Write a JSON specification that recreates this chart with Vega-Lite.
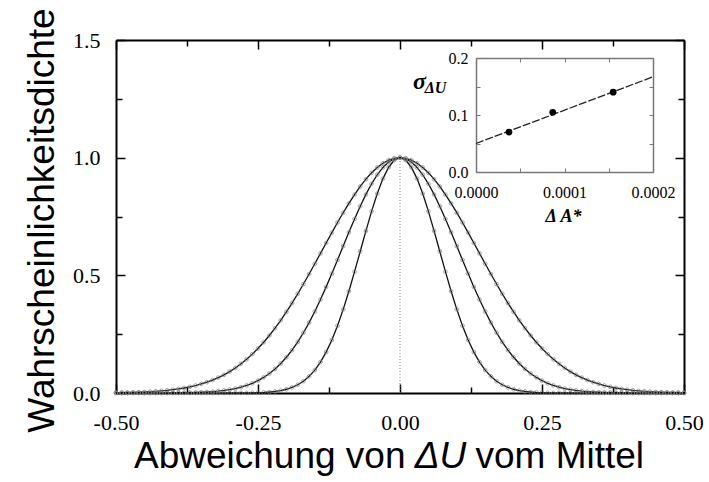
{
  "$schema": "https://vega.github.io/schema/vega-lite/v6.json",
  "width": 568,
  "height": 353,
  "autosize": {"type": "none"},
  "padding": {"left": 116, "top": 40, "right": 25, "bottom": 89},
  "background": "white",
  "config": {"view": {"stroke": null}, "axis": {"grid": false}},
  "datasets": {
    "curves": [
      {"x": -0.50, "a": 0, "b": 0, "c": 0.0013},
      {"x": -0.49, "a": 0, "b": 0, "c": 0.0017},
      {"x": -0.48, "a": 0, "b": 0, "c": 0.0022},
      {"x": -0.47, "a": 0, "b": 0, "c": 0.0028},
      {"x": -0.46, "a": 0, "b": 0, "c": 0.0036},
      {"x": -0.45, "a": 0, "b": 0, "c": 0.0045},
      {"x": -0.44, "a": 0, "b": 0, "c": 0.0058},
      {"x": -0.43, "a": 0, "b": 0.0001, "c": 0.0073},
      {"x": -0.42, "a": 0, "b": 0.0002, "c": 0.0091},
      {"x": -0.41, "a": 0, "b": 0.0003, "c": 0.0114},
      {"x": -0.40, "a": 0, "b": 0.0005, "c": 0.0141},
      {"x": -0.39, "a": 0, "b": 0.0008, "c": 0.0174},
      {"x": -0.38, "a": 0, "b": 0.0011, "c": 0.0213},
      {"x": -0.37, "a": 0, "b": 0.0016, "c": 0.0261},
      {"x": -0.36, "a": 0, "b": 0.0022, "c": 0.0317},
      {"x": -0.35, "a": 0, "b": 0.0031, "c": 0.0383},
      {"x": -0.34, "a": 0, "b": 0.0043, "c": 0.0460},
      {"x": -0.33, "a": 0, "b": 0.0059, "c": 0.0550},
      {"x": -0.32, "a": 0, "b": 0.0080, "c": 0.0654},
      {"x": -0.31, "a": 0, "b": 0.0108, "c": 0.0773},
      {"x": -0.30, "a": 0.0001, "b": 0.0144, "c": 0.0909},
      {"x": -0.29, "a": 0.0002, "b": 0.0190, "c": 0.1064},
      {"x": -0.28, "a": 0.0003, "b": 0.0248, "c": 0.1239},
      {"x": -0.27, "a": 0.0005, "b": 0.0322, "c": 0.1434},
      {"x": -0.26, "a": 0.0009, "b": 0.0413, "c": 0.1652},
      {"x": -0.25, "a": 0.0016, "b": 0.0526, "c": 0.1892},
      {"x": -0.24, "a": 0.0026, "b": 0.0662, "c": 0.2156},
      {"x": -0.23, "a": 0.0042, "b": 0.0827, "c": 0.2443},
      {"x": -0.22, "a": 0.0067, "b": 0.1022, "c": 0.2755},
      {"x": -0.21, "a": 0.0104, "b": 0.1251, "c": 0.3089},
      {"x": -0.20, "a": 0.0159, "b": 0.1518, "c": 0.3445},
      {"x": -0.19, "a": 0.0238, "b": 0.1824, "c": 0.3822},
      {"x": -0.18, "a": 0.0350, "b": 0.2172, "c": 0.4218},
      {"x": -0.17, "a": 0.0502, "b": 0.2561, "c": 0.4631},
      {"x": -0.16, "a": 0.0707, "b": 0.2992, "c": 0.5056},
      {"x": -0.15, "a": 0.0974, "b": 0.3463, "c": 0.5491},
      {"x": -0.14, "a": 0.1315, "b": 0.3970, "c": 0.5933},
      {"x": -0.13, "a": 0.1739, "b": 0.4509, "c": 0.6375},
      {"x": -0.12, "a": 0.2253, "b": 0.5073, "c": 0.6814},
      {"x": -0.11, "a": 0.2858, "b": 0.5654, "c": 0.7244},
      {"x": -0.10, "a": 0.3552, "b": 0.6242, "c": 0.7661},
      {"x": -0.09, "a": 0.4324, "b": 0.6827, "c": 0.8059},
      {"x": -0.08, "a": 0.5156, "b": 0.7396, "c": 0.8432},
      {"x": -0.07, "a": 0.6022, "b": 0.7938, "c": 0.8776},
      {"x": -0.06, "a": 0.6890, "b": 0.8439, "c": 0.9086},
      {"x": -0.05, "a": 0.7720, "b": 0.8889, "c": 0.9356},
      {"x": -0.04, "a": 0.8474, "b": 0.9274, "c": 0.9583},
      {"x": -0.03, "a": 0.9111, "b": 0.9585, "c": 0.9763},
      {"x": -0.02, "a": 0.9594, "b": 0.9813, "c": 0.9894},
      {"x": -0.01, "a": 0.9897, "b": 0.9953, "c": 0.9973},
      {"x": 0.00, "a": 1, "b": 1, "c": 1},
      {"x": 0.01, "a": 0.9897, "b": 0.9953, "c": 0.9973},
      {"x": 0.02, "a": 0.9594, "b": 0.9813, "c": 0.9894},
      {"x": 0.03, "a": 0.9111, "b": 0.9585, "c": 0.9763},
      {"x": 0.04, "a": 0.8474, "b": 0.9274, "c": 0.9583},
      {"x": 0.05, "a": 0.7720, "b": 0.8889, "c": 0.9356},
      {"x": 0.06, "a": 0.6890, "b": 0.8439, "c": 0.9086},
      {"x": 0.07, "a": 0.6022, "b": 0.7938, "c": 0.8776},
      {"x": 0.08, "a": 0.5156, "b": 0.7396, "c": 0.8432},
      {"x": 0.09, "a": 0.4324, "b": 0.6827, "c": 0.8059},
      {"x": 0.10, "a": 0.3552, "b": 0.6242, "c": 0.7661},
      {"x": 0.11, "a": 0.2858, "b": 0.5654, "c": 0.7244},
      {"x": 0.12, "a": 0.2253, "b": 0.5073, "c": 0.6814},
      {"x": 0.13, "a": 0.1739, "b": 0.4509, "c": 0.6375},
      {"x": 0.14, "a": 0.1315, "b": 0.3970, "c": 0.5933},
      {"x": 0.15, "a": 0.0974, "b": 0.3463, "c": 0.5491},
      {"x": 0.16, "a": 0.0707, "b": 0.2992, "c": 0.5056},
      {"x": 0.17, "a": 0.0502, "b": 0.2561, "c": 0.4631},
      {"x": 0.18, "a": 0.0350, "b": 0.2172, "c": 0.4218},
      {"x": 0.19, "a": 0.0238, "b": 0.1824, "c": 0.3822},
      {"x": 0.20, "a": 0.0159, "b": 0.1518, "c": 0.3445},
      {"x": 0.21, "a": 0.0104, "b": 0.1251, "c": 0.3089},
      {"x": 0.22, "a": 0.0067, "b": 0.1022, "c": 0.2755},
      {"x": 0.23, "a": 0.0042, "b": 0.0827, "c": 0.2443},
      {"x": 0.24, "a": 0.0026, "b": 0.0662, "c": 0.2156},
      {"x": 0.25, "a": 0.0016, "b": 0.0526, "c": 0.1892},
      {"x": 0.26, "a": 0.0009, "b": 0.0413, "c": 0.1652},
      {"x": 0.27, "a": 0.0005, "b": 0.0322, "c": 0.1434},
      {"x": 0.28, "a": 0.0003, "b": 0.0248, "c": 0.1239},
      {"x": 0.29, "a": 0.0002, "b": 0.0190, "c": 0.1064},
      {"x": 0.30, "a": 0.0001, "b": 0.0144, "c": 0.0909},
      {"x": 0.31, "a": 0, "b": 0.0108, "c": 0.0773},
      {"x": 0.32, "a": 0, "b": 0.0080, "c": 0.0654},
      {"x": 0.33, "a": 0, "b": 0.0059, "c": 0.0550},
      {"x": 0.34, "a": 0, "b": 0.0043, "c": 0.0460},
      {"x": 0.35, "a": 0, "b": 0.0031, "c": 0.0383},
      {"x": 0.36, "a": 0, "b": 0.0022, "c": 0.0317},
      {"x": 0.37, "a": 0, "b": 0.0016, "c": 0.0261},
      {"x": 0.38, "a": 0, "b": 0.0011, "c": 0.0213},
      {"x": 0.39, "a": 0, "b": 0.0008, "c": 0.0174},
      {"x": 0.40, "a": 0, "b": 0.0005, "c": 0.0141},
      {"x": 0.41, "a": 0, "b": 0.0003, "c": 0.0114},
      {"x": 0.42, "a": 0, "b": 0.0002, "c": 0.0091},
      {"x": 0.43, "a": 0, "b": 0.0001, "c": 0.0073},
      {"x": 0.44, "a": 0, "b": 0, "c": 0.0058},
      {"x": 0.45, "a": 0, "b": 0, "c": 0.0045},
      {"x": 0.46, "a": 0, "b": 0, "c": 0.0036},
      {"x": 0.47, "a": 0, "b": 0, "c": 0.0028},
      {"x": 0.48, "a": 0, "b": 0, "c": 0.0022},
      {"x": 0.49, "a": 0, "b": 0, "c": 0.0017},
      {"x": 0.50, "a": 0, "b": 0, "c": 0.0013}
    ],
    "center": [{"x": 0, "y": 0, "y2": 1}],
    "fit": [{"dA": 0, "sd": 0.05}, {"dA": 0.0002, "sd": 0.167}],
    "sigma": [
      {"dA": 0.0000373, "sd": 0.070},
      {"dA": 0.0000867, "sd": 0.1047},
      {"dA": 0.000155, "sd": 0.140}
    ]
  },
  "layer": [
    {
      "layer": [
        {
          "data": {"name": "curves"},
          "transform": [{"fold": ["a", "b", "c"], "as": ["s", "y"]}],
          "mark": {"type": "line", "color": "#111111", "strokeWidth": 1.3},
          "encoding": {
            "x": {
              "field": "x", "type": "quantitative",
              "scale": {"domain": [-0.5, 0.5], "nice": false, "zero": false},
              "axis": {
                "orient": "bottom",
                "values": [-0.5, -0.375, -0.25, -0.125, 0, 0.125, 0.25, 0.375, 0.5],
                "labelExpr": "abs(datum.value*4-round(datum.value*4))<0.01 ? (datum.value<0 ? '-' + format(-datum.value,'.2f') : format(datum.value,'.2f')) : ''",
                "tickSize": {"condition": {"test": "abs(datum.value*4-round(datum.value*4))<0.01", "value": -9}, "value": -6},
                "tickColor": "black", "tickWidth": 1.5,
                "domainColor": "black", "domainWidth": 2,
                "labelFont": "Liberation Serif", "labelFontSize": 22, "labelColor": "black",
                "labelPadding": 28, "labelFlush": false, "labelOverlap": false,
                "title": "Abweichung von",
                "titleFont": "Liberation Sans", "titleFontSize": 37, "titleFontWeight": "normal", "titleColor": "black",
                "titleX": 289, "titleY": 74, "titleBaseline": "alphabetic", "titleAlign": "right"
              }
            },
            "y": {
              "field": "y", "type": "quantitative",
              "scale": {"domain": [0, 1.5], "nice": false},
              "axis": {
                "orient": "left",
                "values": [0, 0.25, 0.5, 0.75, 1, 1.25, 1.5],
                "labelExpr": "abs(datum.value*2-round(datum.value*2))<0.01 ? format(datum.value,'.1f') : ''",
                "tickSize": {"condition": {"test": "abs(datum.value*2-round(datum.value*2))<0.01", "value": -9}, "value": -6},
                "tickColor": "black", "tickWidth": 1.5,
                "domainColor": "black", "domainWidth": 2,
                "labelFont": "Liberation Serif", "labelFontSize": 22, "labelColor": "black",
                "labelPadding": 25, "labelFlush": false, "labelOverlap": false,
                "title": "Wahrscheinlichkeitsdichte",
                "titleFont": "Liberation Sans", "titleFontSize": 37, "titleFontWeight": "normal", "titleColor": "black",
                "titleAngle": -90, "titleX": -63, "titleY": 180, "titleBaseline": "alphabetic", "titleAlign": "center"
              }
            },
            "detail": {"field": "s", "type": "nominal"}
          }
        },
        {
          "data": {"name": "curves"},
          "transform": [{"fold": ["a", "b", "c"], "as": ["s", "y"]}],
          "mark": {"type": "point", "filled": false, "shape": "circle", "size": 14, "stroke": "#808080", "strokeWidth": 1},
          "encoding": {
            "x": {
              "field": "x", "type": "quantitative",
              "scale": {"domain": [-0.5, 0.5], "nice": false, "zero": false},
              "axis": {
                "orient": "bottom", "domain": false, "ticks": false, "labels": false,
                "title": "vom Mittel",
                "titleFont": "Liberation Sans", "titleFontSize": 37, "titleFontWeight": "normal", "titleColor": "black",
                "titleX": 359, "titleY": 74, "titleBaseline": "alphabetic", "titleAlign": "left"
              }
            },
            "y": {"field": "y", "type": "quantitative", "scale": {"domain": [0, 1.5], "nice": false}, "axis": null}
          }
        },
        {
          "data": {"name": "center"},
          "mark": {"type": "rule", "color": "#888888", "strokeWidth": 1, "strokeDash": [1, 2]},
          "encoding": {
            "x": {
              "field": "x", "type": "quantitative",
              "scale": {"domain": [-0.5, 0.5], "nice": false, "zero": false},
              "axis": {
                "orient": "top",
                "values": [-0.5, -0.375, -0.25, -0.125, 0, 0.125, 0.25, 0.375, 0.5],
                "labels": false,
                "tickSize": {"condition": {"test": "abs(datum.value*4-round(datum.value*4))<0.01", "value": -9}, "value": -6},
                "tickColor": "black", "tickWidth": 1.5,
                "domainColor": "black", "domainWidth": 2,
                "title": "ΔU",
                "titleFont": "Liberation Sans", "titleFontSize": 37, "titleFontWeight": "normal", "titleFontStyle": "italic", "titleColor": "black",
                "titleX": 324, "titleY": 427, "titleBaseline": "alphabetic", "titleAlign": "center"
              }
            },
            "y": {
              "field": "y", "type": "quantitative",
              "scale": {"domain": [0, 1.5], "nice": false},
              "axis": {
                "orient": "right",
                "values": [0, 0.25, 0.5, 0.75, 1, 1.25, 1.5],
                "labels": false,
                "tickSize": {"condition": {"test": "abs(datum.value*2-round(datum.value*2))<0.01", "value": -9}, "value": -6},
                "tickColor": "black", "tickWidth": 1.5,
                "domainColor": "black", "domainWidth": 2,
                "title": null
              }
            },
            "y2": {"field": "y2"}
          }
        }
      ],
      "resolve": {"axis": {"x": "independent", "y": "independent"}}
    },
    {
      "layer": [
        {
          "data": {"name": "fit"},
          "mark": {"type": "line", "color": "#222222", "strokeWidth": 1.3, "strokeDash": [8, 2]},
          "encoding": {
            "x": {
              "field": "dA", "type": "quantitative",
              "scale": {"domain": [0, 0.0002], "range": [360, 537], "nice": false, "zero": false},
              "axis": {
                "orient": "bottom", "offset": -221,
                "values": [0, 0.00005, 0.0001, 0.00015, 0.0002],
                "labelExpr": "round(datum.value*20000)%2==0 ? format(datum.value,'.4f') : ''",
                "tickSize": -4, "tickColor": "#777777", "tickWidth": 1,
                "domainColor": "#777777", "domainWidth": 1.5,
                "labelFont": "Liberation Serif", "labelFontSize": 16, "labelColor": "black",
                "labelPadding": 16, "labelFlush": false, "labelOverlap": false,
                "title": "Δ A*",
                "titleFont": "Liberation Serif", "titleFontSize": 18, "titleFontWeight": "bold", "titleFontStyle": "italic", "titleColor": "black",
                "titleX": 447, "titleY": 49, "titleBaseline": "alphabetic", "titleAlign": "center"
              }
            },
            "y": {
              "field": "sd", "type": "quantitative",
              "scale": {"domain": [0, 0.2], "range": [132, 18], "nice": false, "zero": false},
              "axis": {
                "orient": "left", "offset": -360,
                "values": [0, 0.05, 0.1, 0.15, 0.2],
                "labelExpr": "round(datum.value*20)%2==0 ? format(datum.value,'.1f') : ''",
                "tickSize": -4, "tickColor": "#777777", "tickWidth": 1,
                "domainColor": "#777777", "domainWidth": 1.5,
                "labelFont": "Liberation Serif", "labelFontSize": 16, "labelColor": "black",
                "labelPadding": 12, "labelFlush": false, "labelOverlap": false,
                "title": "σ",
                "titleFont": "Liberation Serif", "titleFontSize": 24, "titleFontWeight": "bold", "titleFontStyle": "italic", "titleColor": "black",
                "titleAngle": 0, "titleX": -57, "titleY": 48, "titleBaseline": "alphabetic", "titleAlign": "center"
              }
            }
          }
        },
        {
          "data": {"name": "sigma"},
          "mark": {"type": "point", "filled": true, "shape": "circle", "size": 45, "color": "black", "opacity": 1},
          "encoding": {
            "x": {
              "field": "dA", "type": "quantitative",
              "scale": {"domain": [0, 0.0002], "range": [360, 537], "nice": false, "zero": false},
              "axis": {
                "orient": "top", "offset": -18,
                "values": [0, 0.00005, 0.0001, 0.00015, 0.0002],
                "labels": false,
                "tickSize": -4, "tickColor": "#777777", "tickWidth": 1,
                "domainColor": "#777777", "domainWidth": 1.5,
                "title": null
              }
            },
            "y": {
              "field": "sd", "type": "quantitative",
              "scale": {"domain": [0, 0.2], "range": [132, 18], "nice": false, "zero": false},
              "axis": {
                "orient": "right", "offset": -31,
                "values": [0, 0.05, 0.1, 0.15, 0.2],
                "labels": false,
                "tickSize": -4, "tickColor": "#777777", "tickWidth": 1,
                "domainColor": "#777777", "domainWidth": 1.5,
                "title": "ΔU",
                "titleFont": "Liberation Serif", "titleFontSize": 16, "titleFontWeight": "bold", "titleFontStyle": "italic", "titleColor": "black",
                "titleAngle": 0, "titleX": -218, "titleY": 52, "titleBaseline": "alphabetic", "titleAlign": "center"
              }
            }
          }
        }
      ],
      "resolve": {"axis": {"x": "independent", "y": "independent"}}
    }
  ],
  "resolve": {"scale": {"x": "independent", "y": "independent"}}
}
